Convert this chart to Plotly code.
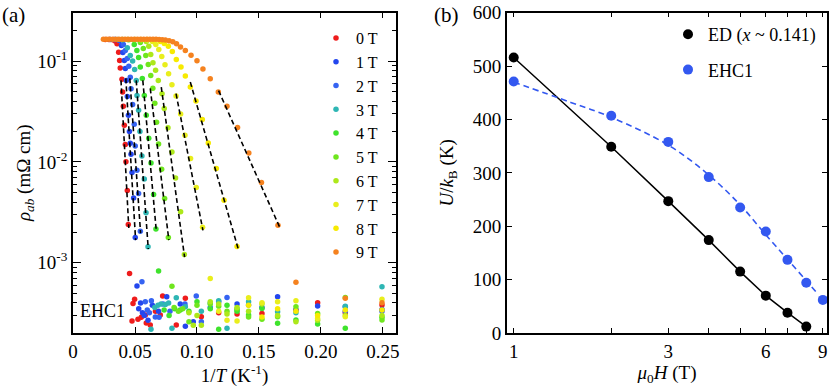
import plotly.graph_objects as go
from plotly.subplots import make_subplots

W, H = 830, 390

# ---- panel (a): rho_ab vs 1/T, one series per field ----
FIELDS = ["0 T", "1 T", "2 T", "3 T", "4 T", "5 T", "6 T", "7 T", "8 T", "9 T"]
COLORS = ["#ee1c1c", "#2346ee", "#3563f2", "#2eb6b4", "#3fe32c",
          "#6fe61e", "#ade81a", "#e9ee1c", "#f7ea00", "#f5821f"]

X0 = [0.026, 0.029, 0.032, 0.034, 0.0355, 0.0368, 0.0376, 0.0381, 0.0395, 0.0400, 0.0406, 0.0414,
      0.0422, 0.0427, 0.0438, 0.0446,
      0.0456, 0.0476, 0.0484, 0.0497, 0.0524, 0.0551, 0.0583, 0.0591, 0.0623, 0.0665, 0.0704,
      0.0723, 0.0833, 0.0906, 0.1035, 0.1175, 0.1323, 0.1524, 0.1798, 0.1973, 0.2196, 0.2492]
R0 = [0.164, 0.164, 0.163, 0.158, 0.1486, 0.1227, 0.1016, 0.0853, 0.0659, 0.0493, 0.0356, 0.0231,
      0.01486, 0.01005, 0.00521, 0.0024,
      7.85e-4, 2.65e-4, 3.96e-4, 4.35e-4, 2.75e-4, 2.88e-4, 3.03e-4, 2.53e-4, 2.42e-4, 3.3e-4, 3.03e-4,
      4.68e-4, 2.42e-4, 4.45e-4, 2.92e-4, 3.2e-4, 3.1e-4, 3.15e-4, 3.4e-4, 4.02e-4, 3.2e-4, 3.81e-4]

X1 = [0.030, 0.034, 0.0375, 0.0390, 0.0402, 0.0414, 0.0422, 0.0430, 0.0438, 0.0447, 0.0455, 0.0462,
      0.0468, 0.0476, 0.0489, 0.0502,
      0.0516, 0.053, 0.0545, 0.056, 0.0575, 0.0605, 0.064, 0.069, 0.0756, 0.0865, 0.0906, 0.097,
      0.1175, 0.1323, 0.1524, 0.165, 0.1973, 0.2196, 0.2492]
R1 = [0.164, 0.164, 0.160, 0.143, 0.122, 0.1016, 0.0847, 0.0644, 0.0447, 0.029, 0.0201, 0.0153,
      0.0119, 0.00785, 0.00438, 0.00178,
      5.9e-4, 3.5e-4, 4.0e-4, 3.2e-4, 3.0e-4, 2.7e-4, 3.8e-4, 3.3e-4, 4.6e-4, 3.9e-4, 2.35e-4, 2.6e-4,
      4.1e-4, 3.9e-4, 3.6e-4, 4.6e-4, 3.72e-4, 3.66e-4, 3.45e-4]

X2 = [0.033, 0.037, 0.0406, 0.0422, 0.0438, 0.0450, 0.0462, 0.0468, 0.0481, 0.0494, 0.0502, 0.0516,
      0.0529, 0.0543,
      0.0556, 0.0583, 0.0599, 0.0616, 0.0632, 0.0664, 0.0694, 0.0726, 0.0782, 0.0903, 0.0994, 0.1035,
      0.1107, 0.1242, 0.1416, 0.1798, 0.2196, 0.2492]
R2 = [0.164, 0.163, 0.146, 0.1276, 0.1064, 0.0887, 0.069, 0.0533, 0.0372, 0.0236, 0.0144, 0.00828,
      0.00486, 0.00206,
      6.5e-4, 4.1e-4, 3.4e-4, 3.2e-4, 4.2e-4, 2.9e-4, 2.88e-4, 3.9e-4, 3.3e-4, 3.9e-4, 4.7e-4, 2.6e-4,
      3.6e-4, 4.54e-4, 3.81e-4, 3.4e-4, 3.3e-4, 3.3e-4]

X3 = [0.036, 0.040, 0.0438, 0.0462, 0.0481, 0.0497, 0.0510, 0.0516, 0.0529, 0.0540, 0.0556, 0.0575,
      0.0589, 0.0605,
      0.0629, 0.066, 0.0685, 0.071, 0.0745, 0.0771, 0.0798, 0.0833, 0.0906, 0.1035, 0.1107, 0.1175,
      0.1242, 0.1323, 0.1416, 0.165, 0.1798, 0.2196, 0.2492]
R3 = [0.164, 0.163, 0.136, 0.1138, 0.1, 0.0828, 0.0644, 0.0457, 0.0325, 0.0201, 0.01146, 0.00679,
      0.00313, 0.00144,
      2.2e-4, 3.6e-4, 3.8e-4, 3.9e-4, 3.85e-4, 4.0e-4, 2.24e-4, 4.5e-4, 3.66e-4, 3.3e-4, 4.0e-4, 4.2e-4,
      2.24e-4, 3.4e-4, 4.1e-4, 3.27e-4, 3.2e-4, 3.7e-4, 5.78e-4]

X4 = [0.040, 0.045, 0.0494, 0.0515, 0.0529, 0.0543, 0.0559, 0.0575, 0.0591, 0.0611, 0.0629, 0.0650,
      0.0669,
      0.069, 0.0735, 0.0775, 0.082, 0.0865, 0.0935, 0.1, 0.1107, 0.1175, 0.1242, 0.1323, 0.1416,
      0.1524, 0.165, 0.1798, 0.1973, 0.2196, 0.2492]
R4 = [0.164, 0.163, 0.146, 0.1276, 0.1088, 0.0873, 0.0674, 0.0457, 0.029, 0.0172, 0.00977, 0.00475,
      0.00217,
      8.3e-4, 3.4e-4, 3.0e-4, 3.5e-4, 3.4e-4, 3.3e-4, 4.1e-4, 3.5e-4, 2.2e-4, 3.8e-4, 3.3e-4, 3.03e-4,
      3.53e-4, 2.51e-4, 2.71e-4, 2.48e-4, 2.24e-4, 2.88e-4]

X5 = [0.044, 0.049, 0.0543, 0.0567, 0.0587, 0.0607, 0.0627, 0.0644, 0.0660, 0.0674, 0.0690, 0.0715,
      0.0739, 0.0769,
      0.0798, 0.0815, 0.085, 0.0885, 0.0935, 0.1, 0.1107, 0.1175, 0.1242, 0.1323, 0.1416, 0.1524,
      0.165, 0.1798, 0.1973, 0.2196, 0.2492]
R5 = [0.164, 0.163, 0.153, 0.1336, 0.1138, 0.0928, 0.0722, 0.0537, 0.0381, 0.0247, 0.01507, 0.00847,
      0.00434, 0.00178,
      5.87e-4, 3.6e-4, 3.3e-4, 3.5e-4, 2.6e-4, 3.8e-4, 3.9e-4, 3.7e-4, 3.3e-4, 3.5e-4, 2.9e-4, 2.75e-4,
      2.91e-4, 3.66e-4, 3.15e-4, 4.54e-4, 2.71e-4]

X6 = [0.050, 0.055, 0.0591, 0.0611, 0.0627, 0.0645, 0.0666, 0.0688, 0.0718, 0.0736, 0.0766, 0.0798,
      0.0827, 0.0868, 0.0898,
      0.0935, 0.097, 0.1, 0.1035, 0.1107, 0.1175, 0.1242, 0.1323, 0.1416, 0.1524, 0.165, 0.1798,
      0.1973, 0.2196, 0.2492]
R6 = [0.164, 0.163, 0.1567, 0.14, 0.1164, 0.0964, 0.081, 0.0644, 0.0475, 0.0338, 0.0219, 0.01256,
      0.00695, 0.0032, 0.00121,
      3.2e-4, 2.4e-4, 3.0e-4, 2.4e-4, 4.1e-4, 3.9e-4, 3.1e-4, 3.6e-4, 3.3e-4, 3.9e-4, 3.0e-4, 2.6e-4,
      2.7e-4, 3.0e-4, 3.0e-4]

X7 = [0.055, 0.060, 0.064, 0.0668, 0.0692, 0.0716, 0.0742, 0.0771, 0.0798, 0.0831, 0.0868, 0.0903,
      0.0948, 0.0994, 0.1045,
      0.1107, 0.1175, 0.1242, 0.1323, 0.1416, 0.1524, 0.165, 0.1798, 0.1973, 0.2196, 0.2492]
R7 = [0.164, 0.163, 0.1567, 0.146, 0.1306, 0.1113, 0.092, 0.075, 0.0583, 0.045, 0.0299, 0.0184,
      0.0108, 0.00558, 0.00225,
      7.0e-4, 3.3e-4, 2.7e-4, 2.65e-4, 4.5e-4, 4.02e-4, 4.11e-4, 4.2e-4, 2.81e-4, 2.91e-4, 4.34e-4]

X8 = [0.060, 0.065, 0.0704, 0.0736, 0.0769, 0.0801, 0.0833, 0.0871, 0.0906, 0.0946, 0.0992, 0.1043,
      0.1091, 0.1156, 0.1218, 0.1323,
      0.1416, 0.1524, 0.165, 0.1798, 0.1973, 0.2196, 0.2492]
R8 = [0.164, 0.163, 0.1567, 0.1496, 0.14, 0.1248, 0.104, 0.0873, 0.071, 0.0553, 0.0402, 0.0263,
      0.0154, 0.0086, 0.00418, 0.00145,
      3.8e-4, 2.9e-4, 3.5e-4, 3.3e-4, 3.0e-4, 3.4e-4, 3.4e-4]

X9 = [0.0245, 0.027, 0.0295, 0.032, 0.0345, 0.037, 0.0395, 0.042, 0.0445, 0.047, 0.0495, 0.052,
      0.0545, 0.057, 0.0595, 0.062, 0.0645, 0.067, 0.0695, 0.072, 0.0745, 0.0775, 0.0805, 0.0835,
      0.0867, 0.0906, 0.0952, 0.1000, 0.1048, 0.1107, 0.1172, 0.1242, 0.1327, 0.1418, 0.1520, 0.1653,
      0.1798, 0.2196, 0.2492]
R9 = [0.165, 0.165, 0.165, 0.165, 0.165, 0.165, 0.165, 0.165, 0.165, 0.165, 0.165, 0.165,
      0.165, 0.165, 0.165, 0.165, 0.165, 0.1645, 0.164, 0.163, 0.1615, 0.159, 0.156, 0.149,
      0.1377, 0.1276, 0.114, 0.101, 0.0834, 0.067, 0.0493, 0.0356, 0.022, 0.0123, 0.00625, 0.00236,
      6.4e-4, 4.44e-4, 4.02e-4]

# dashed Arrhenius fits, start and end point for each field
FIT_X_START = [0.0387, 0.0426, 0.0458, 0.0510, 0.0563, 0.0623, 0.0712, 0.0831, 0.0946, 0.1174]
FIT_R_START = [0.0644, 0.0674, 0.0674, 0.0644, 0.0644, 0.0537, 0.0553, 0.0475, 0.062, 0.051]
FIT_X_END = [0.0450, 0.0505, 0.0545, 0.0607, 0.0672, 0.0773, 0.0900, 0.1048, 0.1331, 0.1666]
FIT_R_END = [0.00221, 0.00168, 0.00197, 0.00137, 0.00206, 0.00168, 0.00114, 0.0021, 0.00139, 0.00227]

# ---- panel (b): activation energy vs field ----
H_ED = [1, 2, 3, 4, 5, 6, 7, 8]
U_ED = [516, 349, 247, 174, 115, 70, 38, 12]
H_EHC = [1, 2, 3, 4, 5, 6, 7, 8, 9]
U_EHC = [471, 407, 358, 292, 235, 190, 137, 94, 62]
H_FIT = [1, 1.5, 2, 3, 4, 5, 6, 7, 8, 8.6]
U_FIT = [470, 432, 404, 352, 296, 240, 184, 138, 98, 76]

XS = [X0, X1, X2, X3, X4, X5, X6, X7, X8, X9]
RS = [R0, R1, R2, R3, R4, R5, R6, R7, R8, R9]

FONT = "Liberation Serif"
TICK = 19
TITLE = 19

fig = make_subplots(rows=1, cols=2)

for name, col, xs, rs in zip(FIELDS, COLORS, XS, RS):
    fig.add_trace(go.Scatter(x=xs, y=rs, mode="markers", name=name, legend="legend",
                             marker=dict(color=col, size=5.5, line=dict(width=0))), 1, 1)
for i in range(len(FIELDS)):
    fig.add_trace(go.Scatter(x=[FIT_X_START[i], FIT_X_END[i]], y=[FIT_R_START[i], FIT_R_END[i]],
                             mode="lines", showlegend=False, hoverinfo="skip",
                             line=dict(color="black", width=1.6, dash="5px,3px")), 1, 1)

fig.add_trace(go.Scatter(x=H_ED, y=U_ED, mode="lines", showlegend=False,
                         line=dict(color="black", width=1.5)), 1, 2)
fig.add_trace(go.Scatter(x=H_FIT, y=U_FIT, mode="lines", showlegend=False, line_shape="spline",
                         line=dict(color="#3358f0", width=1.6, dash="6px,4px")), 1, 2)
fig.add_trace(go.Scatter(x=H_ED, y=U_ED, mode="markers", name="ED (<i>x</i> ~ 0.141)", legend="legend2",
                         legendgroup="ed", marker=dict(color="black", size=10, line=dict(width=0))), 1, 2)
fig.add_trace(go.Scatter(x=H_EHC, y=U_EHC, mode="markers", name="EHC1", legend="legend2",
                         legendgroup="ehc", marker=dict(color="#3358f0", size=10, line=dict(width=0))), 1, 2)

axis_common = dict(showline=True, linewidth=1.5, linecolor="black", mirror="ticks", ticks="inside",
                   tickwidth=1.3, tickcolor="black", showgrid=False, zeroline=False, automargin=False,
                   tickfont=dict(family=FONT, size=TICK, color="black"))
title_font = dict(family=FONT, size=TITLE, color="black")

minor_vals = [m * 10.0 ** e for e in (-4, -3, -2, -1) for m in range(2, 10)]

fig.update_xaxes(axis_common, row=1, col=1, domain=[73 / W, 396 / W], range=[0, 0.2605],
                 tickvals=[0, 0.05, 0.10, 0.15, 0.20, 0.25],
                 ticktext=["0", "0.05", "0.10", "0.15", "0.20", "0.25"], ticklen=6,
                 title=dict(text="1/<i>T</i> (K<sup>-1</sup>)", standoff=2, font=title_font))
fig.update_yaxes(axis_common, row=1, col=1, type="log", domain=[1 - 333 / H, 1 - 12.5 / H],
                 range=[-3.696, -0.518], tickvals=[1e-3, 1e-2, 1e-1],
                 ticktext=["10<sup>-3</sup>", "10<sup>-2</sup>", "10<sup>-1</sup>"], ticklen=8,
                 minor=dict(tickvals=minor_vals, ticks="inside", ticklen=4, tickwidth=1.1, tickcolor="black"),
                 title=dict(text="<i>ρ<sub>ab</sub></i> (mΩ cm)", standoff=2, font=title_font))
fig.update_xaxes(axis_common, row=1, col=2, type="log", domain=[506.7 / W, 827.3 / W],
                 range=[-0.0216, 0.968], tickvals=[1, 2, 3, 4, 5, 6, 7, 8, 9],
                 ticktext=["1", "", "3", "", "", "6", "", "", "9"], ticklen=5,
                 title=dict(text="<i>μ</i><sub>0</sub><i>H</i> (T)", standoff=2, font=title_font))
fig.update_yaxes(axis_common, row=1, col=2, domain=[1 - 333 / H, 1 - 12.7 / H], range=[0, 600],
                 tickvals=[0, 100, 200, 300, 400, 500, 600], ticklen=6,
                 title=dict(text="<i>U</i>/<i>k</i><sub>B</sub> (K)", standoff=14, font=title_font))

fig.add_annotation(text="(a)", x=0, y=1 - 15 / H, xref="paper", yref="paper", xanchor="left",
                   yanchor="middle", showarrow=False, font=dict(family=FONT, size=21, color="black"))
fig.add_annotation(text="(b)", x=432 / W, y=1 - 15 / H, xref="paper", yref="paper", xanchor="left",
                   yanchor="middle", showarrow=False, font=dict(family=FONT, size=21, color="black"))
fig.add_annotation(text="EHC1", x=0.004, y=-3.48, xref="x", yref="y", xanchor="left",
                   yanchor="middle", showarrow=False, font=dict(family=FONT, size=18, color="black"))

fig.update_layout(
    width=W, height=H, margin=dict(l=0, r=0, t=0, b=0),
    paper_bgcolor="white", plot_bgcolor="white",
    font=dict(family=FONT, size=18, color="black"),
    legend=dict(x=316 / W, y=1 - 21 / H, xanchor="left", yanchor="top", bgcolor="rgba(0,0,0,0)",
                font=dict(family=FONT, size=16, color="black"), itemwidth=30),
    legend2=dict(x=668 / W, y=1 - 16 / H, xanchor="left", yanchor="top", bgcolor="rgba(0,0,0,0)",
                 font=dict(family=FONT, size=18, color="black"), tracegroupgap=9),
)

fig.write_html("out.html", config={"displayModeBar": False},
               post_script="document.body.style.margin='0';")
